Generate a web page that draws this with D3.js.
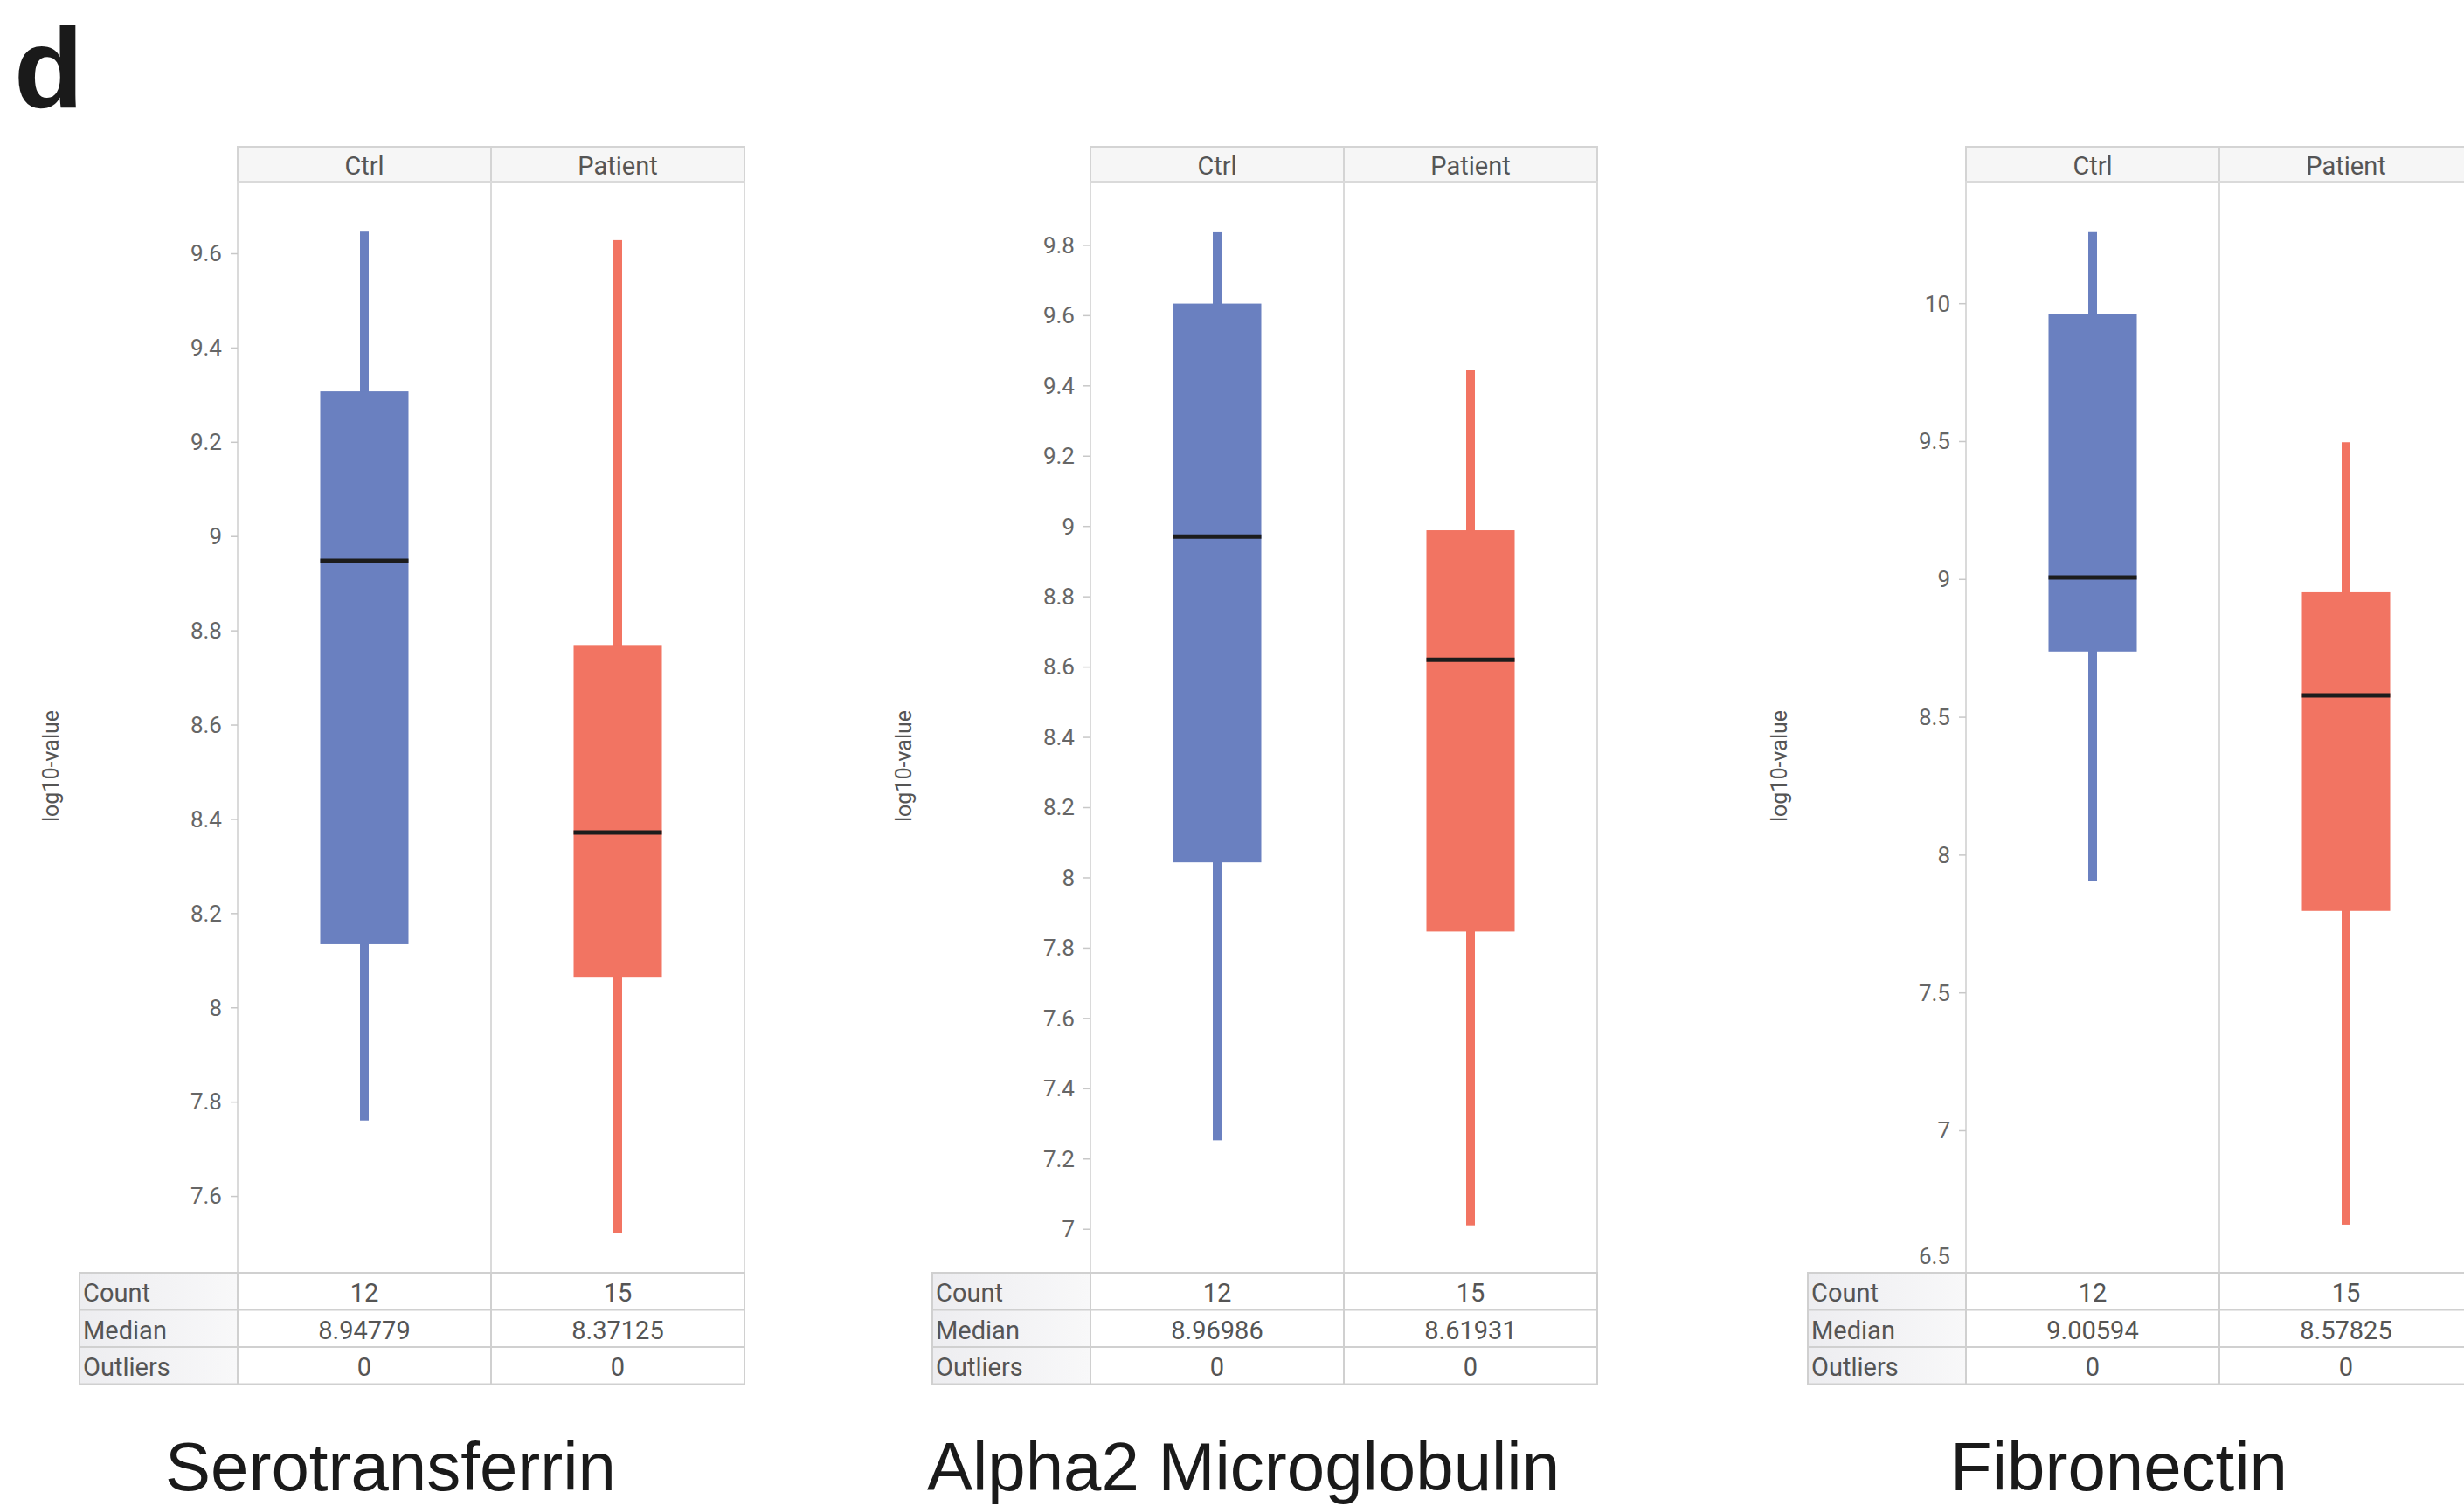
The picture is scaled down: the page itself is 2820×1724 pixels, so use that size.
<!doctype html>
<html>
<head>
<meta charset="utf-8"/>
<style>
    html, body { margin: 0; padding: 0; background: #fff; }
    svg { display: block; }
    .tick text { font-family: Roboto, sans-serif; }
</style>
<script src="https://cdn.jsdelivr.net/npm/d3@7"></script>
</head>
<body>
<svg id="chart" width="2820" height="1724"></svg>
<script>

// ---- data ----
var groups = ["Ctrl", "Patient"];
var proteins = ["Serotransferrin", "Alpha2 Microglobulin", "Fibronectin"];

var whiskerLow  = [[7.760, 7.521], [7.252, 7.010], [7.903, 6.658]];
var q1          = [[8.134, 8.065], [8.043, 7.846], [8.737, 7.796]];
var medians     = [[8.94779, 8.37125], [8.96986, 8.61931], [9.00594, 8.57825]];
var q3          = [[9.307, 8.769], [9.633, 8.988], [9.960, 8.952]];
var whiskerHigh = [[9.646, 9.628], [9.836, 9.445], [10.258, 9.496]];
var counts      = [[12, 15], [12, 15], [12, 15]];
var outliers    = [[0, 0], [0, 0], [0, 0]];

var yDomains = [[7.437, 9.752], [6.875, 9.980], [6.4835, 10.441]];
var yTicks = [
    [7.6, 7.8, 8, 8.2, 8.4, 8.6, 8.8, 9, 9.2, 9.4, 9.6],
    [7, 7.2, 7.4, 7.6, 7.8, 8, 8.2, 8.4, 8.6, 8.8, 9, 9.2, 9.4, 9.6, 9.8],
    [6.5, 7, 7.5, 8, 8.5, 9, 9.5, 10]
];
var rowLabels = ["Count", "Median", "Outliers"];

// ---- layout ----
var panelLeft = [272, 1248, 2250];
var colW = 290, labelW = 181;
var headTop = 168, plotTop = 208, plotBottom = 1457, rowH = 42.5;
var boxW = 101, whiskW = 10;
var blue = "#6a80c0", red = "#f27462";
var fmt = d3.format("~g");

var svg = d3.select("#chart");

var defs = svg.append("defs");
var grad = defs.append("linearGradient").attr("id", "lblGrad");
grad.append("stop").attr("offset", "0%").attr("stop-color", "#ededf0");
grad.append("stop").attr("offset", "100%").attr("stop-color", "#f8f8f9");

// panel letter
svg.append("text")
    .attr("x", 16).attr("y", 123)
    .attr("font-family", "Liberation Sans, Arial, sans-serif")
    .attr("font-weight", "bold")
    .attr("font-size", 130)
    .attr("fill", "#1a1a1a")
    .text("d");

proteins.forEach(function(name, p) {
    var left = panelLeft[p];
    var g = svg.append("g");

    var x = d3.scaleBand().domain(groups).range([left, left + colW * groups.length]);
    var y = d3.scaleLinear().domain(yDomains[p]).range([plotBottom, plotTop]);

    // header
    g.selectAll(".head").data(groups).enter().append("rect")
        .attr("x", function(d) { return x(d); })
        .attr("y", headTop)
        .attr("width", colW).attr("height", plotTop - headTop)
        .attr("fill", "#f6f6f6")
        .attr("stroke", "#d4d4d4").attr("stroke-width", 2);
    g.selectAll(".headText").data(groups).enter().append("text")
        .attr("x", function(d) { return x(d) + colW / 2; })
        .attr("y", (headTop + plotTop) / 2)
        .attr("dy", "0.42em")
        .attr("text-anchor", "middle")
        .attr("font-family", "Roboto, sans-serif")
        .attr("font-size", 29)
        .attr("fill", "#555")
        .text(function(d) { return d; });

    // plot column frames
    g.selectAll(".col").data(groups).enter().append("rect")
        .attr("x", function(d) { return x(d); })
        .attr("y", plotTop)
        .attr("width", colW).attr("height", plotBottom - plotTop)
        .attr("fill", "none")
        .attr("stroke", "#dadada").attr("stroke-width", 2);

    // y axis
    var ax = g.append("g")
        .attr("transform", "translate(" + left + ",0)")
        .call(d3.axisLeft(y).tickValues(yTicks[p]).tickSize(8).tickPadding(10).tickFormat(fmt));
    ax.select(".domain").remove();
    ax.selectAll(".tick line").attr("stroke", "#c8c8c8").attr("stroke-width", 1.5);
    ax.selectAll(".tick text")
        .attr("font-size", 26)
        .attr("fill", "#666")
        .attr("dy", function(d) {
            // keep the lowest label clear of the table
            return y(d) > plotBottom - 20 ? (plotBottom - 20 - y(d)) + 9 : "0.34em";
        });
    ax.selectAll(".tick").filter(function(d) { return y(d) > plotBottom - 12; })
        .select("line").remove();

    svg.append("text")
        .attr("transform", "translate(" + (left - 214) + ",877) rotate(-90)")
        .attr("text-anchor", "middle")
        .attr("dy", "0.35em")
        .attr("font-family", "Roboto, sans-serif")
        .attr("font-size", 25)
        .attr("fill", "#555")
        .text("log10-value");

    // boxes
    var rows = groups.map(function(gr, i) {
        return { grp: gr, i: i, lo: whiskerLow[p][i], q1: q1[p][i], med: medians[p][i],
                 q3: q3[p][i], hi: whiskerHigh[p][i] };
    });
    var bx = g.selectAll(".box").data(rows).enter().append("g");
    bx.append("rect")
        .attr("x", function(d) { return x(d.grp) + colW / 2 - whiskW / 2; })
        .attr("y", function(d) { return y(d.hi); })
        .attr("width", whiskW)
        .attr("height", function(d) { return y(d.lo) - y(d.hi); })
        .attr("fill", function(d) { return d.i === 0 ? blue : red; });
    bx.append("rect")
        .attr("x", function(d) { return x(d.grp) + colW / 2 - boxW / 2; })
        .attr("y", function(d) { return y(d.q3); })
        .attr("width", boxW)
        .attr("height", function(d) { return y(d.q1) - y(d.q3); })
        .attr("fill", function(d) { return d.i === 0 ? blue : red; });
    bx.append("line")
        .attr("x1", function(d) { return x(d.grp) + colW / 2 - boxW / 2; })
        .attr("x2", function(d) { return x(d.grp) + colW / 2 + boxW / 2; })
        .attr("y1", function(d) { return y(d.med); })
        .attr("y2", function(d) { return y(d.med); })
        .attr("stroke", "#1c1c1c").attr("stroke-width", 5);

    // stats table
    var tbl = g.append("g");
    var tLeft = left - labelW;
    rowLabels.forEach(function(lbl, r) {
        var ty = plotBottom + r * rowH;
        tbl.append("rect")
            .attr("x", tLeft).attr("y", ty)
            .attr("width", labelW).attr("height", rowH)
            .attr("fill", "url(#lblGrad)")
            .attr("stroke", "#d0d0d0").attr("stroke-width", 2);
        tbl.append("text")
            .attr("x", tLeft + 4).attr("y", ty + rowH / 2).attr("dy", "0.42em")
            .attr("font-family", "Roboto, sans-serif").attr("font-size", 29)
            .attr("fill", "#555")
            .text(lbl);
        var vals = r === 0 ? counts[p] : (r === 1 ? medians[p] : outliers[p]);
        groups.forEach(function(gr, i) {
            tbl.append("rect")
                .attr("x", x(gr)).attr("y", ty)
                .attr("width", colW).attr("height", rowH)
                .attr("fill", "#fff")
                .attr("stroke", "#d0d0d0").attr("stroke-width", 2);
            tbl.append("text")
                .attr("x", x(gr) + colW / 2).attr("y", ty + rowH / 2).attr("dy", "0.42em")
                .attr("text-anchor", "middle")
                .attr("font-family", "Roboto, sans-serif").attr("font-size", 29)
                .attr("fill", "#555")
                .text(String(vals[i]));
        });
    });

    // protein name
    svg.append("text")
        .attr("x", left + 175).attr("y", 1706)
        .attr("text-anchor", "middle")
        .attr("font-family", "Liberation Sans, Arial, sans-serif")
        .attr("font-size", 78)
        .attr("fill", "#1a1a1a")
        .text(name);
});

</script>
</body>
</html>
